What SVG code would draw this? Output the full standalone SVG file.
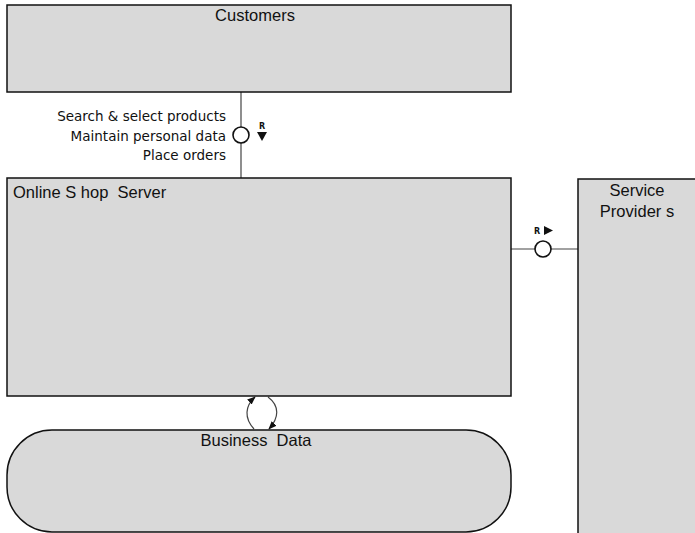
<svg xmlns="http://www.w3.org/2000/svg" width="695" height="533" viewBox="0 0 695 533">
<defs>
<style>
.box{fill:#d9d9d9;stroke:#111;stroke-width:1.5}
.t{font-family:"Liberation Sans",Arial,sans-serif;font-size:16.5px;fill:#111}
.lbl{font-family:"DejaVu Sans","Liberation Sans",sans-serif;font-size:13.5px;fill:#111}
.con{stroke:#444;stroke-width:1.2;fill:none}
.port{fill:#fff;stroke:#111;stroke-width:1.6}
.tri{fill:#111}
.r{font-family:"DejaVu Sans","Liberation Sans",sans-serif;font-size:8px;font-weight:bold;fill:#111}
</style>
<marker id="ah" viewBox="0 0 10 10" refX="9" refY="5" markerWidth="7" markerHeight="7" orient="auto">
<path d="M0,1 L10,5 L0,9 Z" fill="#111"/>
</marker>
</defs>
<rect width="695" height="533" fill="#fff"/>
<g id="connectors">
<line class="con" x1="241" y1="92" x2="241" y2="178"/>
<circle class="port" cx="241" cy="135" r="8"/>
<text class="r" x="262" y="129" text-anchor="middle">R</text>
<path class="tri" d="M257,132 L267,132 L262,141 Z"/>
<text class="lbl" x="226" y="121" text-anchor="end">Search &amp; select products</text>
<text class="lbl" x="226" y="141" text-anchor="end">Maintain personal data</text>
<text class="lbl" x="226" y="160" text-anchor="end">Place orders</text>
<line class="con" x1="511" y1="249" x2="578" y2="249"/>
<circle class="port" cx="543" cy="249" r="8"/>
<text class="r" x="537" y="234" text-anchor="middle">R</text>
<path class="tri" d="M544,226 L553,230.5 L544,235 Z"/>
<path class="con" d="M254,429 C244,418 245,406 255,397" marker-end="url(#ah)"/>
<path class="con" d="M268,397 C280,406 279,418 269,429" marker-end="url(#ah)"/>
</g>
<g id="customers">
<rect class="box" x="7" y="5" width="504" height="87"/>
<text class="t" x="255" y="21" text-anchor="middle">Customers</text>
</g>
<g id="online-shop-server">
<rect class="box" x="7" y="178" width="504" height="218"/>
<text class="t" x="13" y="198" xml:space="preserve">Online S hop  Server</text>
</g>
<g id="service-providers">
<rect class="box" x="578" y="179" width="130" height="370"/>
<text class="t" x="637" y="196" text-anchor="middle">Service</text>
<text class="t" x="637" y="217" text-anchor="middle">Provider s</text>
</g>
<g id="business-data">
<rect class="box" x="7" y="430" width="504" height="102" rx="45" ry="45"/>
<text class="t" x="256" y="446" text-anchor="middle" xml:space="preserve">Business  Data</text>
</g>
</svg>
